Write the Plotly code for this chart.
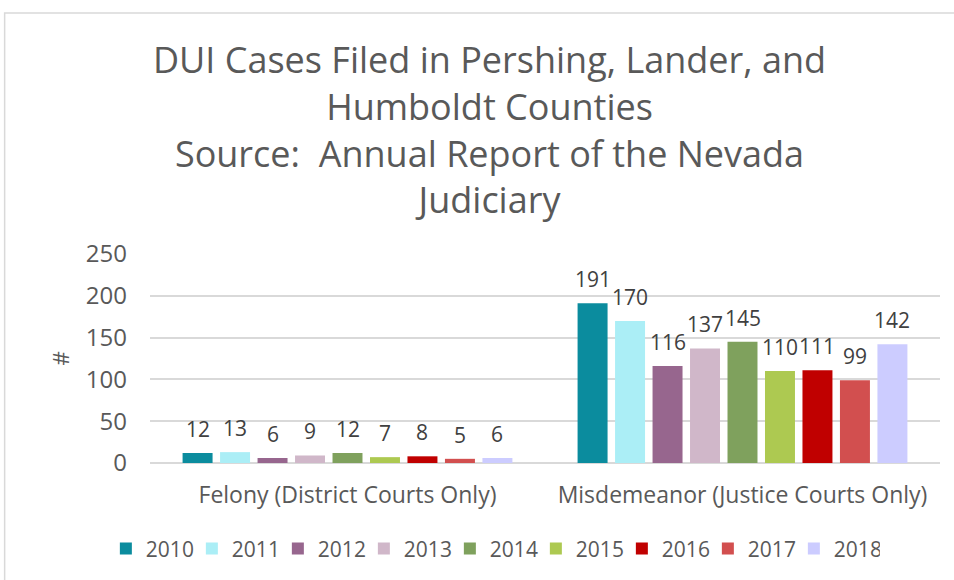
import plotly.graph_objects as go

categories = ["Felony (District Courts Only)", "Misdemeanor (Justice Courts Only)"]
years = ["2010", "2011", "2012", "2013", "2014", "2015", "2016", "2017", "2018"]
felony = [12, 13, 6, 9, 12, 7, 8, 5, 6]
misdemeanor = [191, 170, 116, 137, 145, 110, 111, 99, 142]
colors = ["#0B8C9E", "#ABEEF6", "#97668E", "#D0B7C9", "#7FA15D",
          "#ADC951", "#C00000", "#D24F4F", "#CCCCFF"]
y_ticks = [0, 50, 100, 150, 200, 250]

FONT = "Open Sans"
GREY = "#595959"
LABEL = "#404040"
BARGAP = 0.146
GROUPGAP = 0.2

fig = go.Figure()
annotations = []
n = len(years)
slot = (1 - BARGAP) / n
for i, yr in enumerate(years):
    vals = [felony[i], misdemeanor[i]]
    fig.add_trace(go.Bar(
        name=yr, x=categories, y=vals,
        marker=dict(color=colors[i], line=dict(width=0)),
        cliponaxis=False,
    ))
    # value labels above each bar
    for c, v in enumerate(vals):
        annotations.append(dict(
            x=c + (i - (n - 1) / 2) * slot, y=v, xref="x", yref="y",
            text=str(v), showarrow=False, yanchor="bottom", yshift=8,
            font=dict(size=21, color=LABEL, family=FONT),
        ))

annotations.append(dict(
    x=0.43, y=1.598, xref="paper", yref="paper", xanchor="center", yanchor="middle",
    text="DUI Cases Filed in Pershing, Lander, and<br>Humboldt Counties<br>"
         "Source:  Annual Report of the Nevada<br>Judiciary",
    showarrow=False, align="center",
    font=dict(size=36, color=GREY, family=FONT),
))

fig.update_layout(
    width=954, height=580,
    margin=dict(l=150, r=14, t=254, b=117, autoexpand=False),
    paper_bgcolor="white", plot_bgcolor="white",
    barmode="group", bargap=BARGAP, bargroupgap=GROUPGAP,
    font=dict(family=FONT, color=GREY),
    showlegend=True,
    legend=dict(orientation="h", x=0.434, xanchor="center", y=-0.411, yanchor="middle",
                font=dict(size=21, color=GREY, family=FONT),
                itemwidth=30, entrywidth=41, entrywidthmode="pixels",
                tracegroupgap=0, traceorder="normal"),
    xaxis=dict(showline=False, ticks="", ticklabelstandoff=16,
               tickfont=dict(size=23, color=GREY, family=FONT)),
    yaxis=dict(range=[0, 250], tickvals=y_ticks, showgrid=True, gridcolor="#D9D9D9",
               gridwidth=1.5, zeroline=True, zerolinecolor="#D9D9D9", zerolinewidth=1.5,
               tickfont=dict(size=24, color=GREY, family=FONT), ticklabelstandoff=22,
               title=dict(text="#", font=dict(size=22, color=GREY, family=FONT), standoff=10)),
    annotations=annotations,
    shapes=[dict(type="rect", xref="paper", yref="paper",
                 x0=-0.184, x1=1.05, y0=-0.7, y1=2.153,
                 line=dict(color="#D9D9D9", width=1.5), fillcolor="rgba(0,0,0,0)",
                 layer="below")],
)

fig.write_html("out.html")
